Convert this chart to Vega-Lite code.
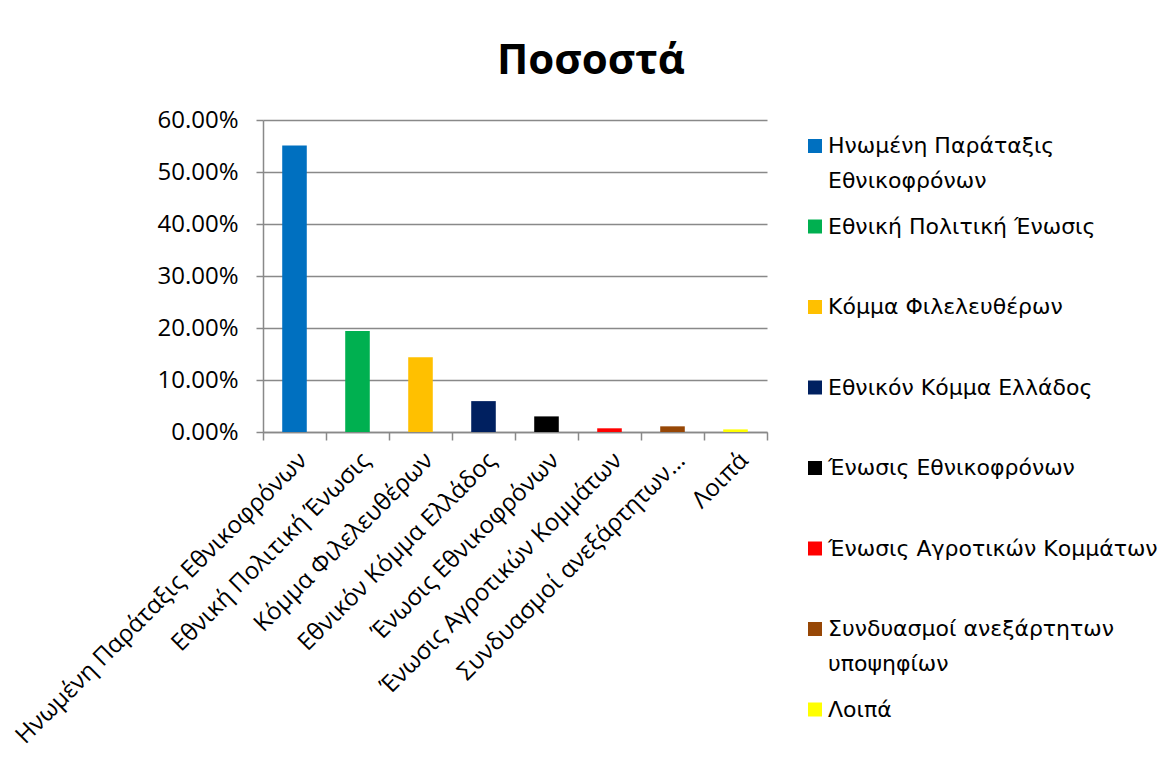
{
  "$schema": "https://vega.github.io/schema/vega-lite/v6.json",
  "width": 504,
  "height": 312,
  "autosize": {"type": "none"},
  "padding": {"left": 263, "top": 120, "right": 399, "bottom": 326},
  "background": "white",
  "title": {"text": "Ποσοστά", "font": "Open Sans", "fontSize": 42, "fontWeight": "bold", "color": "black", "anchor": "middle", "dx": 76, "offset": 25},
  "data": {
    "values": [
      {"party": "Ηνωμένη Παράταξις Εθνικοφρόνων", "pct": 0.5512},
      {"party": "Εθνική Πολιτική Ένωσις", "pct": 0.194},
      {"party": "Κόμμα Φιλελευθέρων", "pct": 0.1439},
      {"party": "Εθνικόν Κόμμα Ελλάδος", "pct": 0.0594},
      {"party": "Ένωσις Εθνικοφρόνων", "pct": 0.030},
      {"party": "Ένωσις Αγροτικών Κομμάτων", "pct": 0.0071},
      {"party": "Συνδυασμοί ανεξάρτητων υποψηφίων", "pct": 0.0109},
      {"party": "Λοιπά", "pct": 0.005}
    ]
  },
  "mark": {"type": "bar", "width": {"band": 0.39}},
  "encoding": {
    "x": {
      "field": "party", "type": "nominal", "sort": null,
      "scale": {"paddingInner": 0, "paddingOuter": 0},
      "axis": {
        "title": null, "labelAngle": -45, "tickBand": "extent", "tickSize": 8,
        "tickColor": "#898989", "tickWidth": 1.5, "domainColor": "#898989", "domainWidth": 1.5,
        "labelFont": "Open Sans", "labelFontSize": 24, "labelColor": "black", "labelPadding": 8, "labelLimit": 600,
        "labelExpr": "datum.label == 'Συνδυασμοί ανεξάρτητων υποψηφίων' ? 'Συνδυασμοί ανεξάρτητων…' : datum.label"
      }
    },
    "y": {
      "field": "pct", "type": "quantitative",
      "scale": {"domain": [0, 0.6]},
      "axis": {
        "title": null, "values": [0, 0.1, 0.2, 0.3, 0.4, 0.5, 0.6], "format": ".2%",
        "grid": true, "gridColor": "#898989", "gridWidth": 1.5,
        "domainColor": "#898989", "domainWidth": 1.5, "tickColor": "#898989", "tickWidth": 1.5, "tickSize": 7,
        "labelPadding": 18, "labelFont": "Open Sans", "labelFontSize": 24, "labelColor": "black"
      }
    },
    "color": {
      "field": "party", "type": "nominal", "sort": null,
      "scale": {
        "domain": ["Ηνωμένη Παράταξις Εθνικοφρόνων", "Εθνική Πολιτική Ένωσις", "Κόμμα Φιλελευθέρων", "Εθνικόν Κόμμα Ελλάδος", "Ένωσις Εθνικοφρόνων", "Ένωσις Αγροτικών Κομμάτων", "Συνδυασμοί ανεξάρτητων υποψηφίων", "Λοιπά"],
        "range": ["#0070C0", "#00B050", "#FFC000", "#002060", "#000000", "#FF0000", "#974706", "#FFFF00"]
      },
      "legend": {
        "title": null, "orient": "none", "legendX": 541, "legendY": 15,
        "symbolType": "square", "symbolSize": 196, "symbolStrokeWidth": 0,
        "labelFont": "DejaVu Sans", "labelFontSize": 22, "labelColor": "black", "labelLimit": 400, "labelOffset": 2,
        "rowPadding": 23.5,
        "labelExpr": "datum.label == 'Ηνωμένη Παράταξις Εθνικοφρόνων' ? ['Ηνωμένη Παράταξις', 'Εθνικοφρόνων'] : datum.label == 'Συνδυασμοί ανεξάρτητων υποψηφίων' ? ['Συνδυασμοί ανεξάρτητων', 'υποψηφίων'] : [datum.label, '']",
        "encode": {"labels": {"update": {"lineHeight": {"value": 35}}}}
      }
    }
  },
  "config": {"view": {"stroke": null}}
}
